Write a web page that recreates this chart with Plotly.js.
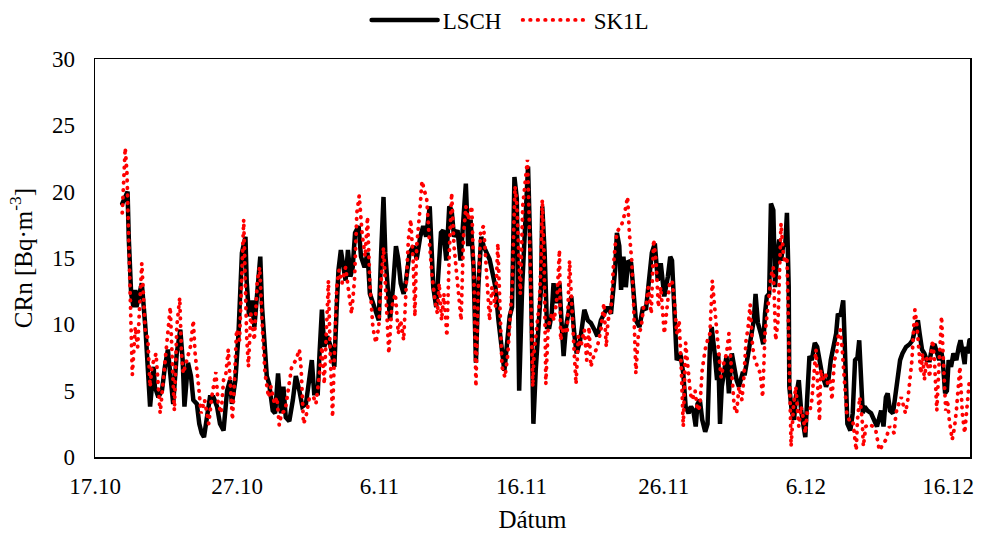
<!DOCTYPE html>
<html>
<head>
<meta charset="utf-8">
<script src="https://cdn.plot.ly/plotly-3.0.1.min.js"></script>
<style>html,body{margin:0;padding:0;background:#fff;}#chart{width:984px;height:536px;}
#chart path.js-line{stroke-linecap:round;}</style>
</head>
<body>
<div id="chart"></div>
<script>
// Hours since 17.10 00:00 and CRn values [Bq·m-3]
const lschH = [46,55,57,59,61,65,68,70,73,79,85,89,93,99,101,107,113,118,123,127,132,138,144,148,151,157,162,166,172,176,180,184,189,194,200,206,211,217,223,228,231,237,242,246,248,254,
256,260,265,269,274,279,282,286,290,294,300,304,309,314,318,322,328,334,339,345,350,356,362,366,370,376,379,383,387,392,398,404,408,411,415,419,423,427,431,435,439,445,449,455,460,464,469,474,479,483,487,
490,494,498,503,508,512,516,521,525,531,538,543,549,554,559,565,569,571,576,580,584,588,593,598,602,606,612,617,622,626,630,634,639,643,647,652,656,661,666,670,676,681,687,691,695,700,704,708,712,716,721,725,731,735,737,740,
744,748,753,755,759,763,767,771,774,778,784,788,791,795,801,804,809,813,819,826,832,837,843,848,854,860,865,871,875,878,881,885,888,892,896,900,905,909,913,919,925,930,936,940,945,950,955,961,967,971,
974,978,982,988,993,997,1002,1006,1010,1014,1017,1021,1025,1030,1034,1038,1041,1046,1050,1052,1055,1058,1063,1066,1070,1075,1079,1083,1087,1093,1097,1102,1108,1112,1115,1119,1124,1128,1131,1134,1138,1141,1145,1148,1151,1155,1158,1162,1165,1168,1171,1172,1176,1180,1183,1188,1192,1196,1199,1202,1206,1210,1215,1219,1223,1227,
1234,1238,1242,1246,1251,1254,1258,1261,1263,1265,1268,1270,1275,1279,1283,1287,1290,1293,1296,1299,1304,1310,1316,1320,1324,1327,1331,1335,1338,1342,1347,1351,1355,1359,1363,1369,1375,1380,1384,1389,1392,1396,1400,1404,1409,1413,1417,1421,1425,1428,1431,1435,1438,1441,1445,1449,1454,1458,1461,1465,1468,1470,1473,1476];
const lschV = [19.1,20.0,16.5,14.1,12.3,11.3,12.6,11.3,11.8,13.1,9.8,6.8,3.8,6.8,5.3,4.5,5.0,6.8,8.1,6.3,4.0,7.8,9.6,7.3,3.8,7.1,6.1,4.3,4.0,2.5,1.8,1.5,2.8,4.5,4.5,3.8,2.5,2.0,5.0,5.8,4.0,5.8,9.1,12.8,15.4,16.6,
13.3,10.6,11.8,9.8,12.8,15.1,11.3,8.3,6.1,5.5,3.5,3.3,6.3,3.3,5.3,3.0,2.7,4.3,6.1,5.0,3.8,4.0,6.3,7.3,4.8,4.8,7.8,11.1,8.3,9.1,8.3,6.8,11.3,14.1,15.6,14.1,13.3,15.6,13.6,14.3,16.9,17.4,15.1,14.3,15.4,12.3,11.6,11.1,10.3,15.4,19.6,
15.4,12.1,10.3,12.8,15.9,14.9,13.1,12.3,13.3,15.4,15.9,14.9,16.6,17.4,16.6,18.9,15.4,12.8,11.3,14.1,16.9,17.1,14.8,18.9,18.6,16.6,17.1,14.8,17.9,20.6,15.9,17.9,14.3,7.1,12.8,16.6,15.9,15.4,14.9,14.1,12.8,10.3,7.8,6.5,8.3,10.6,11.3,21.1,19.5,5.0,12.8,17.0,21.9,15.4,7.8,2.5,
6.6,9.1,12.8,18.9,15.4,9.8,9.8,10.8,13.1,11.6,13.1,9.8,7.6,9.8,11.3,12.1,9.3,7.8,8.8,11.1,10.3,10.1,9.6,9.1,10.3,10.8,11.3,10.8,12.3,14.1,16.9,15.9,12.6,15.1,12.8,14.8,14.6,12.8,10.3,9.8,11.3,11.1,13.3,15.4,16.1,13.3,14.6,12.1,13.6,15.1,
14.8,11.3,7.3,7.8,6.3,3.8,3.3,3.8,3.5,2.3,4.0,4.3,2.8,1.9,2.5,8.3,9.8,7.8,5.8,7.8,2.5,5.3,6.6,7.6,4.8,7.8,6.8,5.8,5.3,6.3,6.3,7.8,9.3,10.3,12.3,10.1,9.3,8.5,10.8,12.1,12.3,19.1,18.6,12.8,14.8,16.4,14.8,16.1,15.9,18.4,12.8,5.3,3.5,2.8,4.5,5.8,3.5,2.3,1.5,4.3,7.6,7.3,8.6,8.3,7.3,6.3,
5.3,5.8,7.3,8.1,9.3,10.8,10.6,11.3,11.8,9.3,4.0,2.5,2.0,3.3,7.3,7.5,8.8,6.3,3.3,3.8,3.5,3.3,2.8,2.3,3.0,3.5,2.3,4.5,4.8,3.5,3.3,4.5,5.8,7.3,7.8,8.3,8.5,8.8,9.6,10.3,9.3,8.1,7.8,7.3,7.3,8.3,8.5,7.8,7.3,8.1,7.3,4.8,5.0,7.3,6.8,7.8,7.3,8.3,8.8,7.8,7.0,8.3,7.8,8.8];

const sk1lH = [46,51,54,56,59,63,68,72,79,85,89,93,96,103,110,115,121,127,131,134,138,143,146,149,155,161,166,169,175,179,185,192,197,204,208,213,217,221,225,228,232,235,239,244,248,251,
256,259,263,269,274,278,283,287,293,297,303,307,311,315,321,328,332,339,345,348,352,356,362,369,373,379,383,387,391,394,397,401,405,408,412,417,423,428,433,438,442,446,451,456,460,464,469,474,479,483,487,491,496,
501,507,512,516,521,525,529,533,537,540,543,548,552,556,560,565,569,574,578,581,585,589,594,598,602,606,611,615,618,622,626,630,636,640,643,647,651,656,660,666,670,676,680,684,687,692,697,704,709,712,716,718,722,726,730,
733,736,739,741,746,750,753,755,758,761,765,771,775,780,784,786,791,797,801,803,806,809,812,816,820,826,830,834,837,843,848,854,859,863,866,871,875,879,883,888,892,896,899,902,906,909,913,917,922,926,930,934,939,943,947,951,955,961,966,970,
974,978,982,986,990,993,997,1002,1005,1008,1013,1017,1021,1025,1030,1034,1038,1042,1046,1050,1054,1057,1061,1066,1070,1075,1079,1083,1087,1092,1095,1099,1102,1106,1110,1114,1119,1123,1127,1131,1137,1141,1145,1149,1153,1155,1158,1162,1165,1168,1171,1174,1175,1179,1183,1188,1192,1196,1199,1202,1206,1210,1213,1217,
1220,1223,1225,1228,1233,1237,1241,1244,1248,1252,1255,1258,1261,1263,1267,1269,1273,1279,1285,1287,1291,1295,1297,1301,1307,1313,1318,1324,1330,1335,1341,1345,1349,1352,1355,1361,1365,1368,1372,1376,1379,1382,1384,1387,1392,1394,1397,1400,1404,1409,1411,1414,1417,1421,1424,1427,1429,1432,1436,1439,1442,1447,1451,1454,1458,1460,1464,1468,1470,1473,1476];
const sk1lV = [18.4,23.3,21.4,18.4,12.3,6.2,9.8,8.3,14.6,9.3,9.0,5.3,6.8,7.8,3.3,5.8,8.8,11.3,6.6,3.5,9.8,12.0,7.8,6.3,7.3,8.3,10.3,7.8,5.3,3.3,4.3,2.5,4.5,6.4,4.0,3.3,5.8,6.3,8.1,5.3,2.8,5.3,9.6,8.8,14.8,17.9,
9.1,6.8,10.8,8.8,13.3,14.3,9.3,6.3,4.5,5.3,4.0,4.5,2.4,3.3,3.5,5.5,6.8,7.3,8.1,6.6,2.5,3.0,4.5,4.5,4.0,6.3,8.3,5.5,10.8,13.3,7.8,3.0,9.1,12.8,14.1,13.1,14.3,12.3,10.8,13.3,18.4,19.7,16.8,15.1,18.1,13.1,9.8,8.6,9.8,13.3,15.8,12.3,7.8,
11.3,12.3,9.3,10.3,8.8,12.3,16.4,17.9,14.8,10.6,15.9,18.4,20.8,20.1,19.4,15.9,13.6,11.8,10.8,13.1,10.3,12.3,9.1,15.3,19.9,15.9,13.6,11.6,10.3,16.6,18.9,17.9,18.9,12.8,5.3,12.8,17.1,17.4,14.8,10.3,12.8,11.3,16.1,10.8,6.8,6.0,7.8,12.8,20.4,19.1,13.3,12.3,18.9,20.4,22.4,
17.9,10.3,5.3,7.8,10.3,11.6,14.8,19.4,15.3,5.5,9.8,10.8,10.3,12.1,15.6,8.8,9.8,9.3,14.8,12.8,10.3,7.8,5.5,9.1,8.3,9.6,7.3,9.8,6.8,7.8,8.3,9.6,11.6,8.3,10.3,11.1,14.3,16.4,17.1,17.4,17.9,18.9,19.6,16.9,14.8,11.8,6.3,9.1,9.8,11.3,11.3,12.8,10.8,16.4,14.8,11.3,12.8,9.3,11.8,13.1,
13.3,11.8,9.3,10.3,6.3,2.3,8.6,6.3,4.8,4.3,5.0,3.5,3.8,6.6,8.1,8.8,9.3,13.3,10.8,9.3,7.3,6.0,7.0,7.8,9.3,6.6,3.8,3.3,5.3,4.3,5.8,8.8,9.6,11.5,8.3,7.3,6.8,6.3,4.5,9.3,11.8,13.6,14.3,8.8,10.3,14.3,17.6,15.3,14.6,15.1,9.8,3.3,0.8,3.8,5.3,2.3,3.8,2.8,1.8,3.3,3.3,4.3,6.3,8.1,
5.3,2.7,6.6,5.8,6.3,5.5,5.8,4.3,7.3,7.8,9.3,9.6,8.3,7.3,4.5,3.3,2.8,2.8,0.5,2.8,4.5,2.8,0.8,2.3,2.5,2.3,2.0,0.5,1.0,1.3,2.3,2.0,1.8,3.3,3.8,4.5,3.8,3.3,4.3,5.8,7.3,9.8,11.1,10.1,7.8,6.3,7.8,5.8,7.5,6.0,7.8,8.8,7.3,3.5,6.3,9.3,10.6,7.3,3.5,4.3,2.8,1.3,2.3,3.5,6.3,6.8,3.3,1.8,2.8,4.3,5.8];

const seriesNames = ['LSCH', 'SK1L'];
const startDate = Date.UTC(2019, 9, 17);

function pad(n){ return (n < 10 ? '0' : '') + n; }
function toDate(h){
  const d = new Date(startDate + h * 3600000);
  return d.getUTCFullYear() + '-' + pad(d.getUTCMonth() + 1) + '-' + pad(d.getUTCDate()) + ' ' + pad(d.getUTCHours()) + ':00';
}

const font = 'Liberation Serif, Times New Roman, serif';

const traces = [
  { x: lschH.map(toDate), y: lschV, name: seriesNames[0], type: 'scatter', mode: 'lines',
    line: { color: '#000000', width: 4.5 } },
  { x: sk1lH.map(toDate), y: sk1lV, name: seriesNames[1], type: 'scatter', mode: 'lines',
    line: { color: '#ff0000', width: 3.8, dash: '0.5px,7px' } }
];

const layout = {
  width: 984, height: 536,
  margin: { l: 95, r: 14, t: 59, b: 79, autoexpand: false },
  paper_bgcolor: '#ffffff', plot_bgcolor: '#ffffff',
  font: { family: font, size: 23, color: '#000000' },
  showlegend: true,
  legend: { orientation: 'h', x: 0.483, xanchor: 'center', y: 1.098, yanchor: 'middle',
    font: { family: font, size: 23, color: '#000' }, itemwidth: 66,
    entrywidth: 70, entrywidthmode: 'pixels', traceorder: 'normal' },
  xaxis: {
    type: 'date',
    range: ['2019-10-17 00:00', '2019-12-17 13:00'],
    tick0: '2019-10-17', dtick: 864000000, tickformat: '%-d.%m',
    showgrid: false, zeroline: false, showline: true, mirror: true,
    linecolor: '#000', linewidth: 1.5, ticks: '', ticklabelstandoff: 8,
    tickfont: { family: font, size: 23, color: '#000' },
    title: { text: 'Dátum', font: { family: font, size: 25, color: '#000' }, standoff: 12 }
  },
  yaxis: {
    range: [0, 30], dtick: 5, tick0: 0,
    showgrid: false, zeroline: false, showline: true, mirror: true,
    linecolor: '#000', linewidth: 1.5, ticks: '', ticklabelstandoff: 14,
    tickfont: { family: font, size: 23, color: '#000' },
    title: { text: 'CRn [Bq·m<sup>-3</sup>]', font: { family: font, size: 25, color: '#000' }, standoff: 12 }
  }
};

Plotly.newPlot('chart', traces, layout, { displayModeBar: false, staticPlot: true });
</script>
</body>
</html>
